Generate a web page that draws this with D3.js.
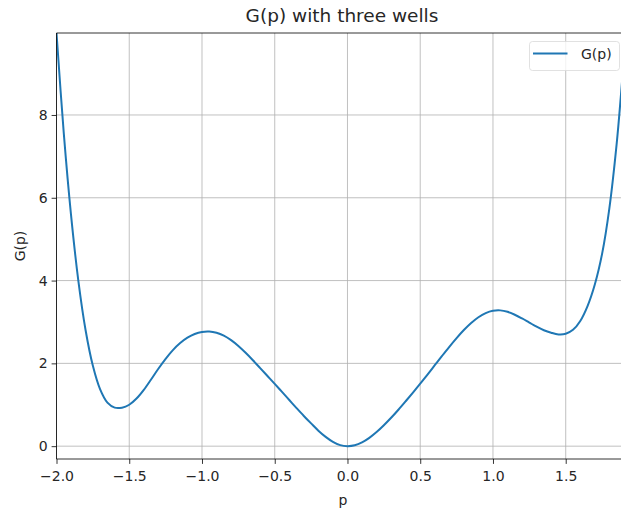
<!DOCTYPE html>
<html>
<head>
<meta charset="utf-8">
<script src="https://cdn.jsdelivr.net/npm/d3@7"></script>
<style>
  html, body { margin: 0; padding: 0; background: #fff; }
  svg { display: block; font-family: "DejaVu Sans", sans-serif; }
</style>
</head>
<body>
<svg id="chart" width="621" height="512"></svg>
<script>
// Sampled curve G(p)
const pValues = [
  -2.0, -1.95, -1.9, -1.85, -1.8, -1.75, -1.7, -1.65, -1.6, -1.55,
  -1.5, -1.45, -1.4, -1.35, -1.3, -1.25, -1.2, -1.15, -1.1, -1.05,
  -1.0, -0.95, -0.9, -0.85, -0.8, -0.75, -0.7, -0.65, -0.6, -0.55,
  -0.5, -0.45, -0.4, -0.35, -0.3, -0.25, -0.2, -0.15, -0.1, -0.05,
  0.0, 0.05, 0.1, 0.15, 0.2, 0.25, 0.3, 0.35, 0.4, 0.45,
  0.5, 0.55, 0.6, 0.65, 0.7, 0.75, 0.8, 0.85, 0.9, 0.95,
  1.0, 1.05, 1.1, 1.15, 1.2, 1.25, 1.3, 1.35, 1.4, 1.45,
  1.5, 1.55, 1.6, 1.65, 1.7, 1.75, 1.8, 1.85, 1.88, 1.9];
const gValues = [
  9.98, 7.56, 5.58, 4.0, 2.8, 1.94, 1.37, 1.05, 0.93, 0.93,
  1.0, 1.15, 1.36, 1.61, 1.87, 2.11, 2.32, 2.49, 2.62, 2.71,
  2.76, 2.77, 2.74, 2.67, 2.56, 2.42, 2.255, 2.075, 1.885, 1.695,
  1.505, 1.31, 1.115, 0.92, 0.73, 0.55, 0.375, 0.225, 0.105, 0.025,
  0.0, 0.02, 0.09, 0.2, 0.34, 0.505, 0.685, 0.88, 1.085, 1.295,
  1.51, 1.73, 1.955, 2.18, 2.4, 2.61, 2.805, 2.975, 3.115, 3.215,
  3.27, 3.28, 3.245, 3.175, 3.085, 2.985, 2.885, 2.8, 2.74, 2.7,
  2.715, 2.81, 3.025, 3.385, 3.905, 4.645, 5.745, 7.295, 8.5, 9.4];

const xTicks = [-2.0, -1.5, -1.0, -0.5, 0.0, 0.5, 1.0, 1.5];
const yTicks = [0, 2, 4, 6, 8];
const seriesName = "G(p)";
const lineColor = "#1f77b4";

(function draw() {
  const svg = d3.select("#chart");
  const plotLeft = 56.5, plotRight = 621, plotTop = 33, plotBottom = 459;

  const x = d3.scaleLinear().domain([-2.0, 1.88]).range([plotLeft, plotRight]);
  const y = d3.scaleLinear().domain([-0.31, 9.98]).range([plotBottom, plotTop]);

  const fmtX = d => (d < 0 ? "\u2212" : "") + Math.abs(d).toFixed(1);

  // grid
  const grid = svg.append("g").attr("stroke", "#b0b0b0").attr("stroke-width", 0.8);
  grid.selectAll(".gx").data(xTicks).join("line")
    .attr("x1", d => x(d)).attr("x2", d => x(d)).attr("y1", plotTop).attr("y2", plotBottom);
  grid.selectAll(".gy").data(yTicks).join("line")
    .attr("x1", plotLeft).attr("x2", plotRight).attr("y1", d => y(d)).attr("y2", d => y(d));

  // curve
  svg.append("clipPath").attr("id", "plotClip")
    .append("rect").attr("x", plotLeft).attr("y", plotTop)
    .attr("width", plotRight - plotLeft).attr("height", plotBottom - plotTop);
  const data = pValues.map((p, i) => ({ p, g: gValues[i] }));
  svg.append("path")
    .datum(data)
    .attr("clip-path", "url(#plotClip)")
    .attr("fill", "none")
    .attr("stroke", lineColor)
    .attr("stroke-width", 2)
    .attr("stroke-linejoin", "round")
    .attr("d", d3.line().x(d => x(d.p)).y(d => y(d.g)).curve(d3.curveCatmullRom.alpha(0.5)));

  // axes
  const xAxis = svg.append("g").attr("transform", `translate(0,${plotBottom})`)
    .call(d3.axisBottom(x).tickValues(xTicks).tickFormat(fmtX).tickSizeOuter(0).tickSize(4.9).tickPadding(4));
  const yAxis = svg.append("g").attr("transform", `translate(${plotLeft},0)`)
    .call(d3.axisLeft(y).tickValues(yTicks).tickFormat(d3.format("d")).tickSizeOuter(0).tickSize(4.9).tickPadding(4));
  [xAxis, yAxis].forEach(a => {
    a.select(".domain").remove();
    a.selectAll("line").attr("stroke", "#000").attr("stroke-width", 0.8);
    a.selectAll("text").attr("fill", "#262626").style("font-size", "14px")
      .style("font-family", "DejaVu Sans, sans-serif");
  });
  xAxis.selectAll("text").attr("dy", "0.9em");

  // spines
  svg.append("line").attr("x1", plotLeft).attr("x2", plotLeft).attr("y1", plotTop).attr("y2", plotBottom)
    .attr("stroke", "#000").attr("stroke-width", 0.8);
  svg.append("line").attr("x1", plotLeft).attr("x2", plotRight).attr("y1", plotBottom).attr("y2", plotBottom)
    .attr("stroke", "#000").attr("stroke-width", 0.8);
  svg.append("line").attr("x1", plotLeft).attr("x2", plotRight).attr("y1", plotTop).attr("y2", plotTop)
    .attr("stroke", "#000").attr("stroke-width", 0.8);

  // title and axis labels
  svg.append("text").attr("x", 342).attr("y", 22).attr("text-anchor", "middle")
    .style("font-size", "18.5px").attr("fill", "#262626").text("G(p) with three wells");
  svg.append("text").attr("x", 343).attr("y", 505).attr("text-anchor", "middle")
    .style("font-size", "14px").attr("fill", "#262626").text("p");
  svg.append("text").attr("transform", `translate(25,${(plotTop + plotBottom) / 2}) rotate(-90)`)
    .attr("text-anchor", "middle").style("font-size", "14px").attr("fill", "#262626").text("G(p)");

  // legend
  const lg = svg.append("g");
  lg.append("rect").attr("x", 529.5).attr("y", 41.5).attr("width", 90).attr("height", 29).attr("rx", 3)
    .attr("fill", "#fff").attr("fill-opacity", 0.8).attr("stroke", "#d9d9d9").attr("stroke-width", 0.8);
  lg.append("line").attr("x1", 533).attr("x2", 567.5).attr("y1", 53.5).attr("y2", 53.5)
    .attr("stroke", lineColor).attr("stroke-width", 2);
  lg.append("text").attr("x", 581).attr("y", 59).style("font-size", "14px").attr("fill", "#262626").text(seriesName);
})();
</script>
</body>
</html>
